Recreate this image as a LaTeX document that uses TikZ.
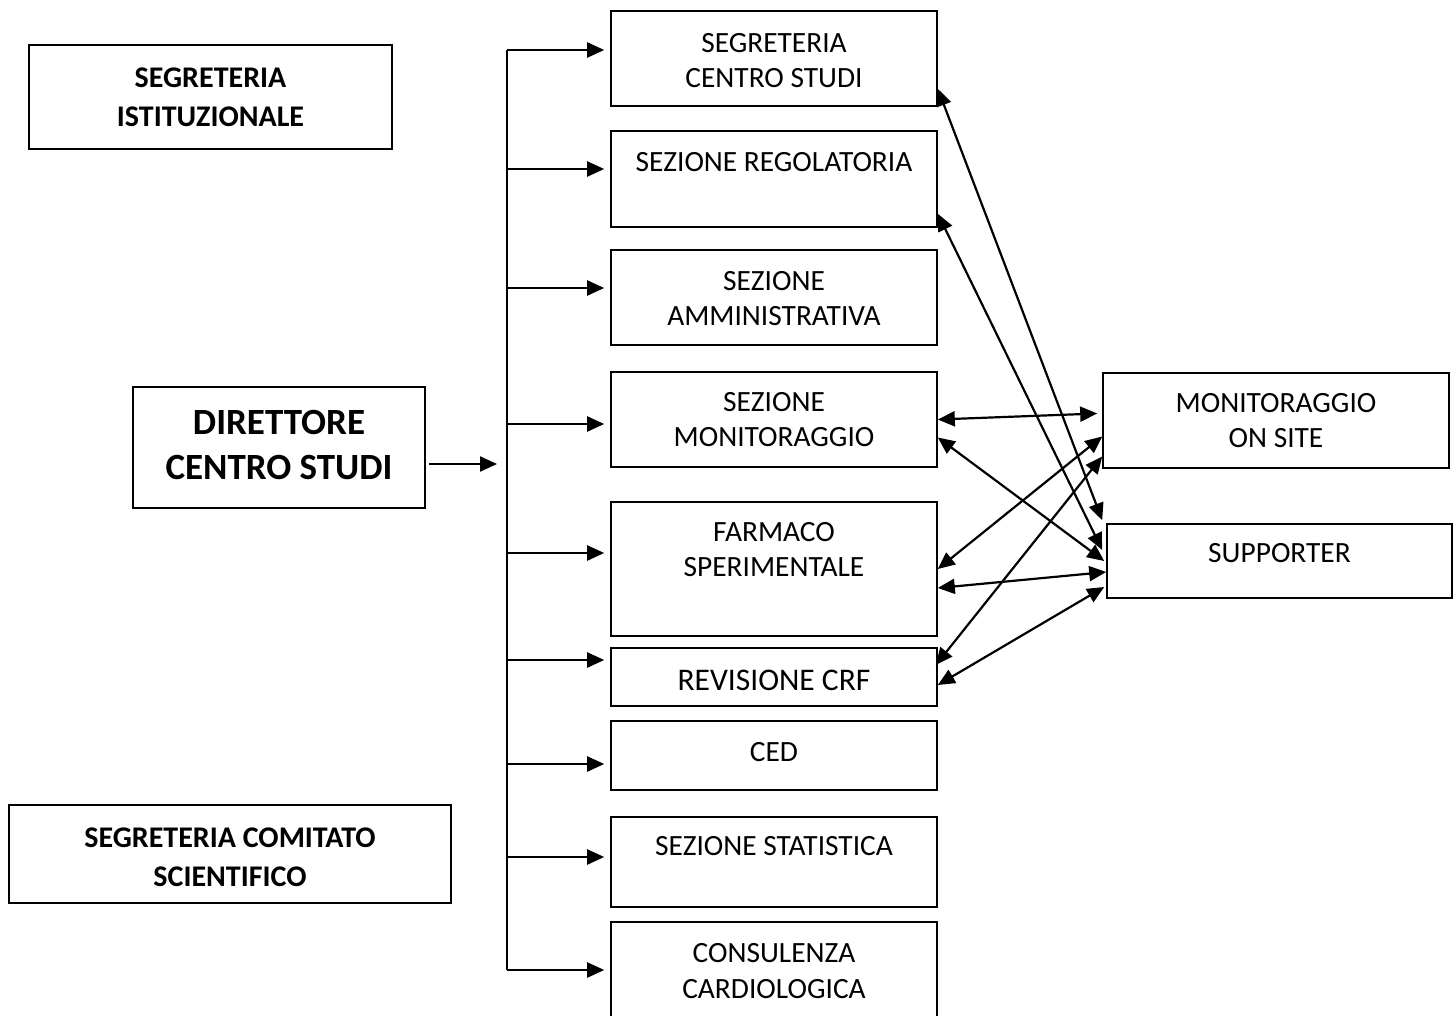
\documentclass[tikz,border=0pt]{standalone}
\usepackage{fontspec}
\setmainfont{Carlito}
\usetikzlibrary{arrows.meta,calc}
\begin{document}
\begin{tikzpicture}[x=1pt,y=-1pt,
  box/.style={draw, line width=1.6pt, inner sep=0pt},
  midbox/.style={box, minimum width=326pt},
  lbl/.style={inner sep=0pt, align=center, font=\fontsize{29.4}{35.3}\selectfont},
  blbl/.style={inner sep=0pt, align=center, font=\fontsize{30}{39}\selectfont\bfseries},
  tip/.tip={Triangle[length=17pt,width=15pt]},
  arr/.style={line width=2.2pt, -tip},
  darr/.style={line width=2.2pt, tip-tip},
]
\clip (0,0) rectangle (1456,1016);
\fill[white] (0,0) rectangle (1456,1016);

% left boxes
\node[box, minimum width=363pt, minimum height=104pt] (si) at (210.5,97) {};
\node[blbl] (tsi) at (210.5,97.5) {SEGRETERIA\\ISTITUZIONALE};
\node[box, minimum width=292pt, minimum height=121pt] (dir) at (279,447.5) {};
\node[inner sep=0pt, align=center, font=\fontsize{37}{45}\selectfont\bfseries] (tdir) at (279,445.5) {DIRETTORE\\CENTRO STUDI};
\node[box, minimum width=442pt, minimum height=98pt] (sc) at (230,854) {};
\node[blbl] (tsc) at (230,857.5) {SEGRETERIA COMITATO\\SCIENTIFICO};

% middle column
\node[midbox, minimum height=95pt] (scs) at (774,58.5) {};
\node[lbl] (tscs) at (774,60.5) {SEGRETERIA\\CENTRO STUDI};
\node[midbox, minimum height=96pt] (reg) at (774,179) {};
\node[lbl] (treg) at (774,162) {SEZIONE REGOLATORIA};
\node[midbox, minimum height=95pt] (amm) at (774,297.5) {};
\node[lbl] (tamm) at (774,298.5) {SEZIONE\\AMMINISTRATIVA};
\node[midbox, minimum height=95pt] (mon) at (774,419.5) {};
\node[lbl] (tmon) at (774,419.5) {SEZIONE\\MONITORAGGIO};
\node[midbox, minimum height=134pt] (farm) at (774,569) {};
\node[lbl] (tfarm) at (774,549.5) {FARMACO\\SPERIMENTALE};
\node[midbox, minimum height=58pt] (crf) at (774,677) {};
\node[lbl, font=\fontsize{31.5}{38}\selectfont] (tcrf) at (774,680) {REVISIONE CRF};
\node[midbox, minimum height=69pt] (ced) at (774,755.5) {};
\node[lbl] (tced) at (774,752) {CED};
\node[midbox, minimum height=90pt] (stat) at (774,862) {};
\node[lbl] (tstat) at (774,846) {SEZIONE STATISTICA};
\node[midbox, minimum height=98pt] (cons) at (774,971) {};
\node[lbl] (tcons) at (774,971) {CONSULENZA\\CARDIOLOGICA};

% right boxes
\node[box, minimum width=346pt, minimum height=95pt] (mos) at (1276,420.5) {};
\node[lbl] (tmos) at (1276,420.5) {MONITORAGGIO\\ON SITE};
\node[box, minimum width=345pt, minimum height=74pt] (sup) at (1279.5,561) {};
\node[lbl] (tsup) at (1279.5,553) {SUPPORTER};

% bus
\coordinate (b1) at (507,50);
\coordinate (b2) at (507,169);
\coordinate (b3) at (507,288);
\coordinate (b4) at (507,424);
\coordinate (b5) at (507,553);
\coordinate (b6) at (507,660);
\coordinate (b7) at (507,764);
\coordinate (b8) at (507,857);
\coordinate (b9) at (507,970);
\draw[line width=2.2pt] (b1) -- (b9);
\foreach \b/\n in {b1/scs,b2/reg,b3/amm,b4/mon,b5/farm,b6/crf,b7/ced,b8/stat,b9/cons}
  \draw[arr, shorten >=6pt] (\b) -- (\b -| \n.west);

% director arrow
\coordinate (dend) at (497,464);
\draw[arr, shorten <=3pt] ([yshift=-16.5pt]dir.east) -- (dend);

% cross connections
\draw[darr] ([yshift=18pt]scs.south east) -- ([xshift=-4pt,yshift=3pt]sup.north west);
\draw[darr] ([yshift=14pt]reg.south east) -- ([xshift=-4pt,yshift=11pt]sup.west);
\draw[darr] (mon.east) -- ([xshift=-5pt,yshift=7pt]mos.west);
\draw[darr] ([yshift=-18pt]mon.east) -- ([xshift=-2pt]sup.west);
\draw[darr] (farm.east) -- ([yshift=-16pt]mos.west);
\draw[darr] ([yshift=-19pt]farm.east) -- ([yshift=-11pt]sup.west);
\draw[darr] ([xshift=-2pt,yshift=12pt]crf.east) -- ([yshift=-36pt]mos.west);
\draw[darr] ([yshift=-8pt]crf.east) -- ([xshift=-2pt,yshift=-26pt]sup.west);
\end{tikzpicture}
\end{document}
